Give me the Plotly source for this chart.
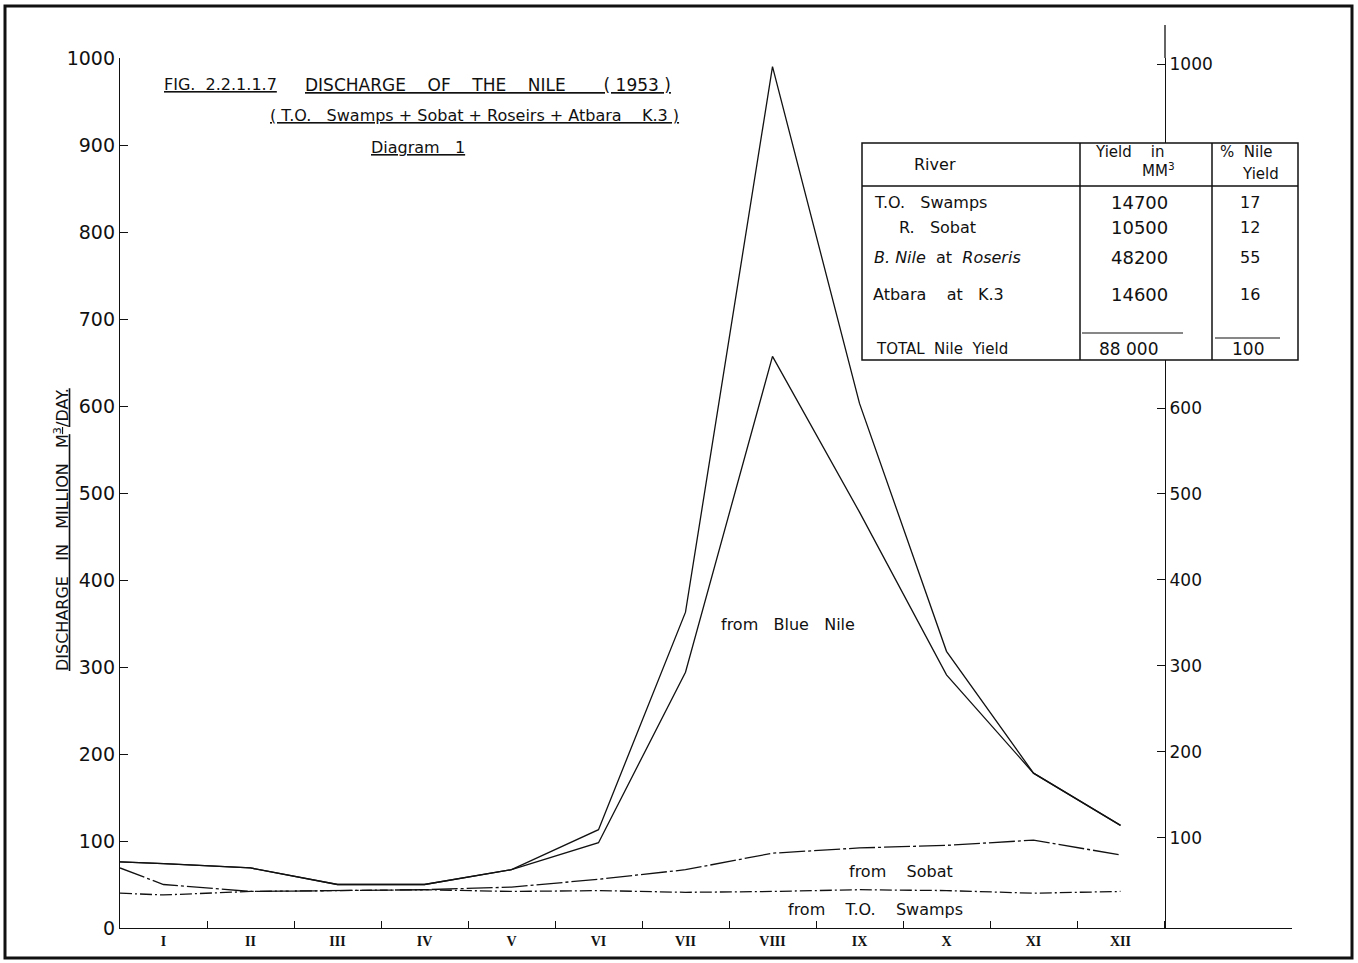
import plotly.graph_objects as go

# ---------------- data ----------------
months = ["I", "II", "III", "IV", "V", "VI", "VII", "VIII", "IX", "X", "XI", "XII"]
# x positions: 0 = start of January, then month centres
x_pos = [0.0, 0.5, 1.5, 2.5, 3.5, 4.5, 5.5, 6.5, 7.5, 8.5, 9.5, 10.5, 11.5]

# cumulative discharges (million m3/day)
to_swamps = [40, 38, 42, 43, 44, 42, 43, 41, 42, 44, 43, 40, 42]
plus_sobat = [69, 50, 42, 43, 44, 47, 56, 67, 86, 92, 95, 101, 84]
plus_blue_nile = [76, 74, 69, 50, 50, 67, 98, 294, 657, 478, 291, 178, 118]
total_nile = [76, 74, 69, 50, 50, 67, 113, 363, 990, 603, 318, 178, 118]

left_ticks = [0, 100, 200, 300, 400, 500, 600, 700, 800, 900, 1000]
right_ticks = [100, 200, 300, 400, 500, 600, 1000]

table_rivers = ["T.O.   Swamps", "R.   Sobat", "<i>B. Nile</i>  at  <i>Roseris</i>",
                "Atbara    at   K.3"]
table_yields = ["14700", "10500", "48200", "14600"]
table_pct = ["17", "12", "55", "16"]
total_label = "TOTAL  Nile  Yield"
total_yield = "88 000"
total_pct = "100"

# ---------------- layout geometry (pixels) ----------------
W, H = 1358, 963
L, R, T, B = 120, 1292, 58, 928          # plot area
PX_PER_MONTH = 87.0
x_max = (R - L) / PX_PER_MONTH
y2_lo, y2_hi = -4.7, 1007                # right axis scale slightly offset


def px(x):
    return (x - L) / (R - L)


def py(y):
    return (B - y) / (B - T)


FONT = "DejaVu Sans, Verdana, sans-serif"
INK = "#111111"

fig = go.Figure()

line_style = dict(color=INK, width=1.3)
fig.add_trace(go.Scatter(x=x_pos, y=to_swamps, mode="lines", xaxis="x2",
                         line=dict(color=INK, width=1.3, dash="12px,3px,2px,3px"),
                         name="T.O. Swamps", hoverinfo="skip"))
fig.add_trace(go.Scatter(x=x_pos, y=plus_sobat, mode="lines",
                         line=dict(color=INK, width=1.3, dash="26px,3px,3px,3px"),
                         name="+ Sobat", hoverinfo="skip"))
fig.add_trace(go.Scatter(x=x_pos, y=plus_blue_nile, mode="lines", line=line_style,
                         name="+ Blue Nile", hoverinfo="skip"))
fig.add_trace(go.Scatter(x=x_pos, y=total_nile, mode="lines", line=line_style,
                         name="Total", hoverinfo="skip"))
# empty trace so that the right-hand axis is drawn
fig.add_trace(go.Scatter(x=[], y=[], yaxis="y2", mode="lines", hoverinfo="skip",
                         showlegend=False))

month_centres = [i + 0.5 for i in range(12)]

fig.update_layout(
    width=W, height=H,
    margin=dict(l=L, r=W - R, t=T, b=H - B, pad=0),
    paper_bgcolor="white", plot_bgcolor="white",
    showlegend=False,
    font=dict(family=FONT, color=INK),
    xaxis=dict(range=[0, x_max], tickvals=month_centres, ticktext=months,
               ticks="", showgrid=False, zeroline=False,
               showline=True, linecolor=INK, linewidth=1.3,
               tickfont=dict(family="Liberation Serif, serif", size=14, color=INK,
                             weight="bold")),
    xaxis2=dict(range=[0, x_max], overlaying="x", anchor="y", side="bottom",
                tickvals=list(range(1, 13)), showticklabels=False,
                ticks="inside", ticklen=7, tickwidth=1.3, tickcolor=INK,
                showgrid=False, zeroline=False, showline=False),
    yaxis=dict(range=[0, 1000], tickvals=left_ticks, ticks="inside", ticklen=8,
               tickwidth=1.3, tickcolor=INK, showgrid=False, zeroline=False,
               showline=True, linecolor=INK, linewidth=1.3,
               tickfont=dict(family="DejaVu Sans, sans-serif", size=19, color=INK)),
    yaxis2=dict(range=[y2_lo, y2_hi], overlaying="y", anchor="free",
                position=px(1165), side="right", tickvals=right_ticks,
                ticks="inside", ticklen=8, tickwidth=1.2, tickcolor=INK,
                showgrid=False, zeroline=False, showline=True, linecolor=INK,
                linewidth=1.3,
                tickfont=dict(family="DejaVu Sans, sans-serif", size=17, color=INK)),
)

shapes = []
# page frame
shapes.append(dict(type="rect", xref="paper", yref="paper", x0=px(5), x1=px(1352),
                   y0=py(958), y1=py(6), line=dict(color=INK, width=3), layer="above"))
# extension of the right axis above the plot
shapes.append(dict(type="line", xref="paper", yref="paper", x0=px(1165), x1=px(1165),
                   y0=py(58), y1=py(25), line=dict(color=INK, width=1.3)))
# table
tx0, tx1, ty0, ty1 = 862, 1298, 143, 360
c1, c2 = 1080, 1212
shapes.append(dict(type="rect", xref="paper", yref="paper", x0=px(tx0), x1=px(tx1),
                   y0=py(ty1), y1=py(ty0), line=dict(color=INK, width=1.5),
                   fillcolor="white", layer="above"))
shapes.append(dict(type="line", xref="paper", yref="paper", x0=px(tx0), x1=px(tx1),
                   y0=py(186), y1=py(186), line=dict(color=INK, width=1.5), layer="above"))
for cx in (c1, c2):
    shapes.append(dict(type="line", xref="paper", yref="paper", x0=px(cx), x1=px(cx),
                       y0=py(ty1), y1=py(ty0), line=dict(color=INK, width=1.5), layer="above"))
shapes.append(dict(type="line", xref="paper", yref="paper", x0=px(1082), x1=px(1183),
                   y0=py(333), y1=py(333), line=dict(color=INK, width=1.2), layer="above"))
shapes.append(dict(type="line", xref="paper", yref="paper", x0=px(1215), x1=px(1280),
                   y0=py(338), y1=py(338), line=dict(color=INK, width=1.2), layer="above"))

annotations = []


def note(text, x, y, size=15, xanchor="center", angle=0, under=False, family=FONT):
    annotations.append(dict(text=text, x=px(x), y=py(y), xref="paper", yref="paper",
                            xanchor=xanchor, yanchor="middle", showarrow=False,
                            textangle=angle,
                            font=dict(family=family, size=size, color=INK,
                                      lineposition="under" if under else "none")))


# titles
note("FIG.  2.2.1.1.7", 162, 85, size=16, xanchor="left", under=True)
note("DISCHARGE    OF    THE    NILE       ( 1953 )", 303, 85, size=17, xanchor="left",
     under=True)
note("( T.O.   Swamps + Sobat + Roseirs + Atbara    K.3 )", 268, 115, size=16,
     xanchor="left", under=True)
note("Diagram   1", 369, 147, size=16, xanchor="left", under=True)

# axis title
note("DISCHARGE   IN   MILLION   M<sup>3</sup>/DAY.", 61, 530, size=16, angle=-90,
     under=True)

# curve labels
note("from   Blue   Nile", 788, 624, size=16)
note("from    Sobat", 901, 871, size=16)
note("from    T.O.    Swamps", 875, 909, size=16)

# table text
note("River", 935, 164, size=16)
note("Yield    in", 1129, 152, size=15)
note("MM<sup>3</sup>", 1158, 170, size=15)
note("%  Nile", 1246, 152, size=15)
note("Yield", 1260, 174, size=15)
row_y = [202, 228, 257, 294]
row_x = [872, 897, 872, 871]
for name, yv, pc, yy, xx in zip(table_rivers, table_yields, table_pct, row_y, row_x):
    note(name, xx, yy, size=16, xanchor="left")
    note(yv, 1139, yy, size=18)
    note(pc, 1250, yy, size=16)
note(total_label, 874, 349, size=15, xanchor="left")
note(total_yield, 1128, 349, size=17)
note(total_pct, 1248, 349, size=17)

fig.update_layout(shapes=shapes, annotations=annotations)

# remove the default page margin so the figure fills the window exactly
fig.write_html("out.html", config={"displayModeBar": False},
               post_script="document.body.style.margin='0px';"
                           "document.body.style.overflow='hidden';")
